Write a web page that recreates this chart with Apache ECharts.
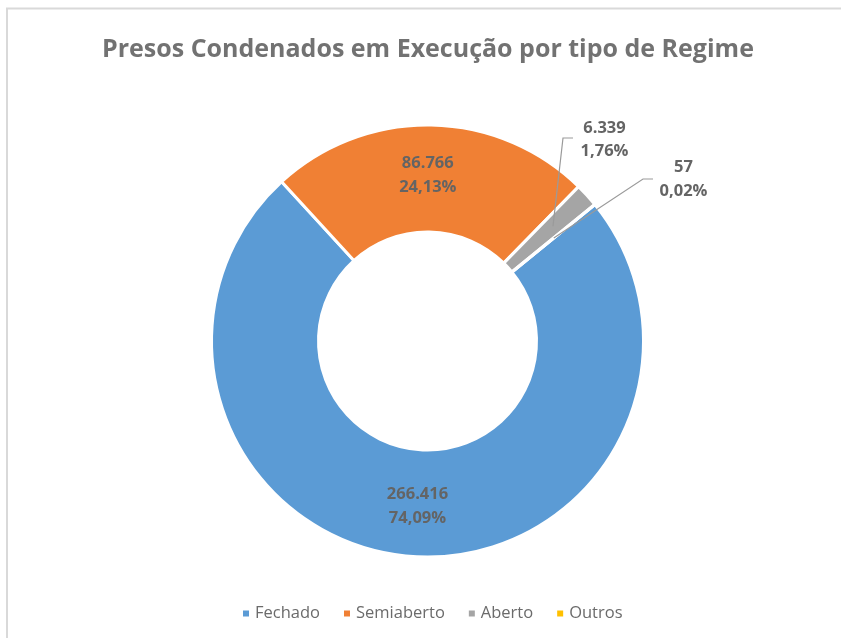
<!DOCTYPE html>
<html>
<head>
<meta charset="utf-8">
<script src="https://cdn.jsdelivr.net/npm/echarts@6/dist/echarts.min.js"></script>
<style>
html,body{margin:0;padding:0;background:#fff;}
#chart{width:841px;height:638px;}
</style>
</head>
<body>
<div id="chart"></div>
<script>
const title = 'Presos Condenados em Execução por tipo de Regime';
const categories = ['Fechado', 'Semiaberto', 'Aberto', 'Outros'];
const values = [266416, 86766, 6339, 57];
const palette = ['#5B9BD5', '#F08034', '#A5A5A5', '#FFC000'];

// layout
const CX = 427.5, CY = 341, RO = 216, RI = 109;
const START_CW_FROM_TOP = 50.8; // degrees clockwise from 12 o'clock

const total = values.reduce((a, b) => a + b, 0);
function fmtNum(v) { return String(v).replace(/\B(?=(\d{3})+(?!\d))/g, '.'); }
function fmtPct(v) { return (v / total * 100).toFixed(2).replace('.', ',') + '%'; }
function midAngle(i) {
  let s = 0;
  for (let k = 0; k < i; k++) s += values[k];
  return START_CW_FROM_TOP + (s + values[i] / 2) / total * 360;
}
function polar(angDeg, r) {
  const a = angDeg * Math.PI / 180;
  return [CX + r * Math.sin(a), CY - r * Math.cos(a)];
}
// outside label placement (relative to centre)
const outsideLabels = {
  2: { dx: 177, dy: -201, bend: [135.5, -203], end: [145.5, -203], r: 170 },
  3: { dx: 256, dy: -161.5, bend: [215.5, -162], end: [225.5, -162], r: 163 }
};

const labelBase = {
  formatter: p => fmtNum(p.value) + '\n' + fmtPct(p.value),
  fontFamily: 'Open Sans',
  fontWeight: 'bold',
  fontSize: 16.5,
  lineHeight: 23.5,
  color: '#646464',
  align: 'center'
};

const chart = echarts.init(document.getElementById('chart'), null, { renderer: 'canvas' });

const mainData = categories.map((c, i) => ({
  name: c,
  value: values[i],
  label: { show: outsideLabels[i] === undefined, position: 'inside' },
  labelLine: { show: false }
}));
const overlayData = categories.map((c, i) => {
  const outside = outsideLabels[i] !== undefined;
  return {
    name: c,
    value: values[i],
    label: { show: outside, position: 'outside' },
    labelLine: { show: outside }
  };
});

chart.setOption({
  animation: false,
  color: palette,
  title: {
    text: title,
    left: 97,
    top: 32,
    textStyle: { fontFamily: 'Open Sans', fontWeight: 'bold', fontSize: 25, color: '#727272' }
  },
  legend: {
    data: categories,
    bottom: 16,
    left: 241,
    padding: 0,
    icon: 'rect',
    itemWidth: 8,
    itemHeight: 8,
    itemGap: 22,
    textStyle: { fontFamily: 'Open Sans', fontSize: 16.5, color: '#6b6b6b' }
  },
  graphic: [{
    type: 'polyline',
    shape: { points: [[7, 1000], [7, 8.5], [1000, 8.5]] },
    style: { fill: 'none', stroke: '#d9d9d9', lineWidth: 2 },
    silent: true, z: -1
  }],
  series: [{
    type: 'pie',
    center: [CX, CY],
    radius: [RI, RO],
    startAngle: 90 - START_CW_FROM_TOP,
    clockwise: true,
    avoidLabelOverlap: false,
    itemStyle: { borderColor: '#ffffff', borderWidth: 3 },
    label: labelBase,
    labelLayout: function (params) {
      if (params.dataIndex === 0) return { dx: 2 };
      if (params.dataIndex === 1) return { dx: -2.5 };
      return {};
    },
    data: mainData
  }, {
    type: 'pie',
    silent: true,
    z: 10,
    center: [CX, CY],
    radius: [RI, RO],
    startAngle: 90 - START_CW_FROM_TOP,
    clockwise: true,
    avoidLabelOverlap: false,
    itemStyle: { color: 'rgba(0,0,0,0)', borderWidth: 0 },
    label: labelBase,
    labelLine: { lineStyle: { color: '#9a9a9a', width: 1.2 } },
    labelLayout: function (params) {
      const o = outsideLabels[params.dataIndex];
      if (!o) return {};
      const start = polar(midAngle(params.dataIndex), o.r);
      return {
        x: CX + o.dx, y: CY + o.dy,
        align: 'center', verticalAlign: 'middle',
        labelLinePoints: [start, [CX + o.bend[0], CY + o.bend[1]], [CX + o.end[0], CY + o.end[1]]]
      };
    },
    data: overlayData
  }]
});
</script>
</body>
</html>
